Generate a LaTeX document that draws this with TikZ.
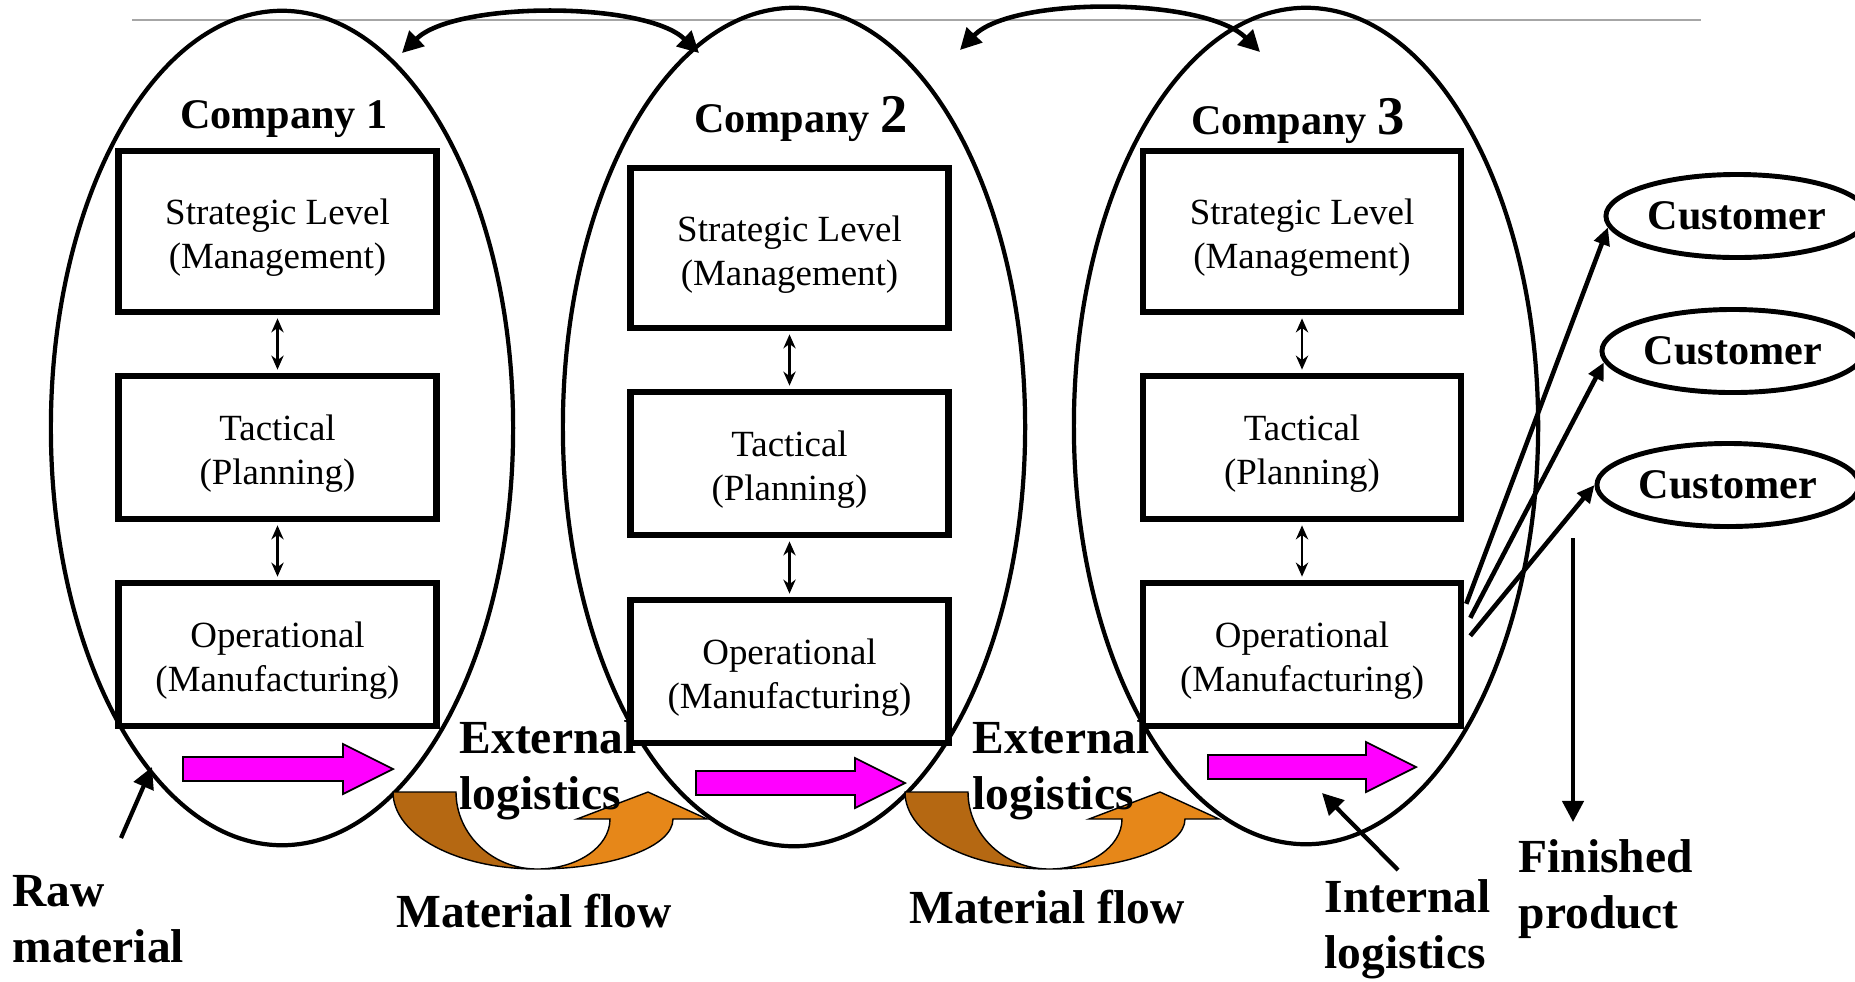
\documentclass[tikz,border=0pt]{standalone}
\usepackage{fontspec}
\setmainfont{Liberation Serif}
\usetikzlibrary{arrows.meta,shapes.geometric,calc}
\definecolor{darkor}{RGB}{181,104,18}
\definecolor{lightor}{RGB}{230,135,25}
\definecolor{magarrow}{RGB}{255,0,255}
\newcommand{\tstrut}{\rule{0pt}{11pt}}
\begin{document}
\begin{tikzpicture}[x=0.01cm,y=-0.01cm,
  company/.style={draw, line width=1.2pt, ellipse, inner sep=0pt},
  levelbox/.style={draw, line width=1.8pt, fill=white, minimum width=3.18cm, align=center, inner sep=0pt, font=\fontsize{10.5}{12.5}\selectfont},
  title/.style={inner sep=0pt, font=\bfseries\fontsize{12}{14}\selectfont},
  cust/.style={draw, ellipse, line width=1.4pt, minimum width=2.62cm, minimum height=0.83cm, inner sep=0pt, font=\bfseries\fontsize{12}{14}\selectfont},
  lbl/.style={inner sep=0pt, align=left, font=\bfseries\fontsize{13.5}{16}\selectfont},
  vlink/.style={{Stealth[length=4pt,width=3.5pt]}-{Stealth[length=4pt,width=3.5pt]}, line width=0.6pt, shorten <=0.9pt, shorten >=0.9pt},
  bigarrow/.style={-{Triangle[length=6pt,width=6pt]}, line width=1.2pt},
  toparrow/.style={{Triangle[length=6pt,width=6pt]}-{Triangle[length=6pt,width=6pt]}, line width=1.3pt},
  custarrow/.style={-{Triangle[length=5pt,width=4.5pt]}, line width=1.3pt},
  magflow/.style={fill=magarrow, draw=black, line width=0.5pt},
  orflow/.style={draw=black, line width=0.4pt}
]
\useasboundingbox (0,0) rectangle (1855,981);

% gray top rule
\draw[gray!70, line width=0.6pt] (132,20) -- (1701,20);

% company ellipses
\node[company, minimum width=4.62cm, minimum height=8.34cm] (e1) at (282,428) {};
\node[company, minimum width=4.62cm, minimum height=8.38cm] (e2) at (794,427) {};
\node[company, minimum width=4.64cm, minimum height=8.36cm] (e3) at (1306,426) {};

% titles
\node[title] (h1) at (284,119) {Company 1};
\node[title] (h2) at (801,119) {Company {\fontsize{15.5}{16}\selectfont 2}};
\node[title] (h3) at (1298,121) {Company {\fontsize{15.5}{16}\selectfont 3}};

% level boxes
\node[levelbox, minimum height=1.61cm] (s1) at (277.5,231.5) {\tstrut Strategic Level\\(Management)};
\node[levelbox, minimum height=1.43cm] (t1) at (277.5,447.5) {\tstrut Tactical\\(Planning)};
\node[levelbox, minimum height=1.43cm] (o1) at (277.5,654.5) {\tstrut Operational\\(Manufacturing)};

\node[levelbox, minimum height=1.60cm] (s2) at (789.5,248) {\tstrut Strategic Level\\(Management)};
\node[levelbox, minimum height=1.43cm] (t2) at (789.5,463.5) {\tstrut Tactical\\(Planning)};
\node[levelbox, minimum height=1.43cm] (o2) at (789.5,671.5) {\tstrut Operational\\(Manufacturing)};

\node[levelbox, minimum height=1.61cm] (s3) at (1302,231.5) {\tstrut Strategic Level\\(Management)};
\node[levelbox, minimum height=1.43cm] (t3) at (1302,447.5) {\tstrut Tactical\\(Planning)};
\node[levelbox, minimum height=1.43cm] (o3) at (1302,654.5) {\tstrut Operational\\(Manufacturing)};

\foreach \i in {1,2,3}{
  \draw[vlink] (s\i.south) -- (t\i.north);
  \draw[vlink] (t\i.south) -- (o\i.north);
}

% magenta internal flow arrows
\draw[magflow] (183,757) -- (343,757) -- (343,744) -- (393,769) -- (343,794) -- (343,781) -- (183,781) -- cycle;
\draw[magflow] (696,771) -- (855,771) -- (855,758) -- (905,783) -- (855,808) -- (855,795) -- (696,795) -- cycle;
\draw[magflow] (1208,755) -- (1366,755) -- (1366,742) -- (1416,767) -- (1366,792) -- (1366,779) -- (1208,779) -- cycle;

% orange material flow arrows
\foreach \dx in {0,512}{
  \begin{scope}[shift={(\dx,0)}]
    \draw[orflow, fill=darkor] (393,792) -- (456,792)
      .. controls (456,834) and (492,869) .. (537,869)
      .. controls (457,869) and (393,835) .. (393,792) -- cycle;
    \draw[orflow, fill=lightor] (537,869)
      .. controls (612,869) and (673,847) .. (673,819)
      -- (707,819) -- (648,792) -- (577,819) -- (610,819)
      .. controls (610,847) and (577,869) .. (537,869) -- cycle;
  \end{scope}
}

% top double arrows between companies
\coordinate (ta1) at (402,53);
\coordinate (tb1) at (699,53);
\coordinate (ta2) at (960,50);
\coordinate (tb2) at (1260,52);
\draw[toparrow] (ta1) .. controls (455,1) and (645,1) .. (tb1);
\draw[toparrow] (ta2) .. controls (1012,-4) and (1205,-3) .. (tb2);

% customers
\node[cust] (c1) at (1737,216) {Customer};
\node[cust] (c2) at (1733,351) {Customer};
\node[cust] (c3) at (1728,485) {Customer};
\draw[custarrow] ($(o3.north east)+(2,24)$) -- (c1.185);
\draw[custarrow] ($(o3.north east)+(6,38)$) -- (c2.185);
\draw[custarrow] ($(o3.north east)+(6,56)$) -- (c3.180);

% finished product
\coordinate (fp0) at (1573,538);
\coordinate (fp1) at (1573,822);
\draw[bigarrow] (fp0) -- (fp1);

% raw material arrow
\coordinate (rm0) at (121,838);
\coordinate (rm1) at (152,767);
\draw[bigarrow] (rm0) -- (rm1);

% internal logistics arrow
\coordinate (il0) at (1398,870);
\coordinate (il1) at (1322,793);
\draw[bigarrow] (il0) -- (il1);

% labels
\node[lbl, anchor=west] (ext1) at (459,770) {External\\logistics};
\node[lbl, anchor=west] (ext2) at (972,770) {External\\logistics};
\node[lbl] (mf1) at (534,911) {Material flow};
\node[lbl] (mf2) at (1047,907) {Material flow};
\node[lbl, anchor=west] (raw) at (12,919) {Raw\\material};
\node[lbl, anchor=west] (intl) at (1324,929) {Internal\\logistics};
\node[lbl, anchor=west] (fin) at (1518,889) {Finished\\product};
\end{tikzpicture}
\end{document}
